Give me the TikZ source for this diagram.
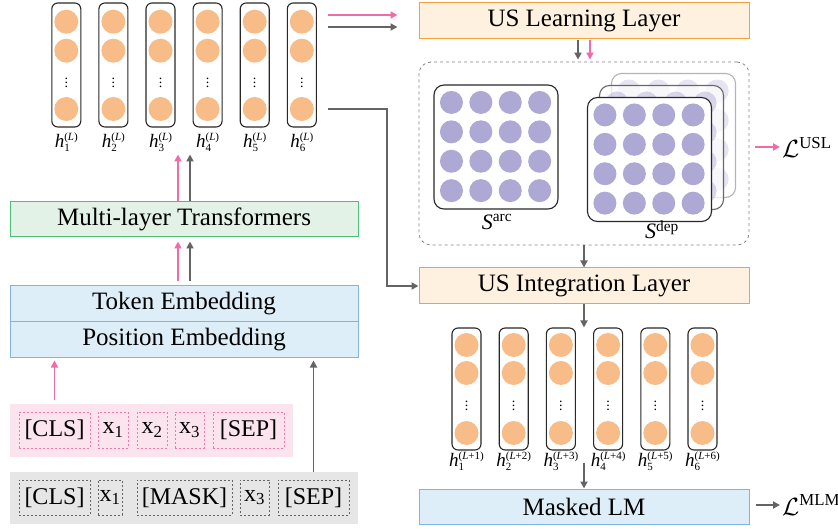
\documentclass[tikz,border=0pt]{standalone}
\usepackage{fontspec}
\setmainfont{Liberation Serif}
\usetikzlibrary{arrows.meta,positioning,calc}
\definecolor{UsInk}{RGB}{40,40,40}
\definecolor{UsPink}{RGB}{240,108,168}
\definecolor{UsGray}{RGB}{100,100,100}
\definecolor{UsUnit}{RGB}{248,188,136}
\definecolor{UsCell}{RGB}{173,168,212}
\definecolor{UsOrangeFill}{RGB}{255,241,224}
\definecolor{UsOrangeLine}{RGB}{245,160,60}
\definecolor{UsGreenFill}{RGB}{226,242,230}
\definecolor{UsGreenLine}{RGB}{80,190,120}
\definecolor{UsBlueFill}{RGB}{222,238,248}
\definecolor{UsBlueLine}{RGB}{130,180,225}
\definecolor{UsPinkFill}{RGB}{252,228,238}
\definecolor{UsPinkLine}{RGB}{240,120,170}
\definecolor{UsGrayFill}{RGB}{230,230,230}
% h with stacked index and layer
\newcommand{\hstate}[2]{\textit{h}\rlap{\raisebox{-4.5pt}{\fontsize{11}{12}\selectfont#1}}\raisebox{7pt}{\fontsize{11}{12}\selectfont(#2)}}
\tikzset{
  us/layer/.style={
    draw=UsOrangeLine,
    line width=1pt,
    fill=UsOrangeFill,
    minimum width=330pt,
    minimum height=36pt,
    inner sep=0pt,
    font=\fontsize{25}{29}\selectfont
  },
  us/blue/.style={us/layer, draw=UsBlueLine, fill=UsBlueFill, minimum width=348pt},
  us/green/.style={us/layer, draw=UsGreenLine, fill=UsGreenFill, minimum width=348pt},
  us/col/.style={draw=UsInk, line width=1.1pt, rounded corners=6pt, minimum width=29pt, minimum height=124pt, inner sep=0pt},
  us/unit/.style={circle, fill=UsUnit, minimum size=24pt, inner sep=0pt},
  us/cell/.style={circle, fill=UsCell, minimum size=23pt, inner sep=0pt},
  us/mat/.style={draw=UsInk, line width=1.1pt, rounded corners=10pt, fill=white, minimum size=124pt, inner sep=0pt},
  us/dots/.style={font=\fontsize{14}{15}\selectfont, inner sep=0pt},
  us/hlabel/.style={inner sep=0pt, font=\fontsize{19}{20}\selectfont},
  us/tokpink/.style={draw=UsPinkLine, line width=0.8pt, dash pattern=on 2pt off 2pt, minimum height=36pt, inner sep=0pt, font=\fontsize{24}{28}\selectfont},
  us/tokgray/.style={us/tokpink, draw=UsGray, minimum height=35pt},
  us/pinkarrow/.style={-{Triangle[length=7pt,width=7pt]}, line width=1.8pt, draw=UsPink},
  us/grayarrow/.style={-{Triangle[length=7pt,width=7pt]}, line width=1.8pt, draw=UsGray}
}

\begin{document}
\begin{tikzpicture}[x=1pt,y=-1pt]
  \useasboundingbox (0,0) rectangle (838,529);

  % hidden states of the last transformer layer
  \foreach \i in {1,...,6}{
    \pgfmathsetmacro{\cx}{66.3+47.1*(\i-1)}
    \node[us/col] (top\i) at (\cx,65) {};
    \foreach \y in {21.7,50.7,109} \node[us/unit] at (\cx,\y) {};
    \node[us/dots] at (\cx,80) {$\vdots$};
    \node[us/hlabel] (ltop\i) at (\cx,142) {\hstate{\i}{\textit{L}}};
  }

  % left stack
  \node[us/green, minimum height=35pt] (trans) at (184,219.5) {Multi-layer Transformers};
  \node[us/blue] (tokemb) at (184,304) {Token Embedding};
  \node[us/blue, minimum height=35pt] (posemb) at (184,339.5) {Position Embedding};

  \fill[UsPinkFill] (10,404) rectangle (293,457);
  \coordinate (pinkrow) at (151.5,404);
  \node[us/tokpink, minimum width=71pt] (tokA1) at (54.5,430) {[CLS]};
  \node[us/tokpink, minimum width=30pt] (tokA2) at (113,430) {x\textsubscript{1}};
  \node[us/tokpink, minimum width=30pt] (tokA3) at (152,430) {x\textsubscript{2}};
  \node[us/tokpink, minimum width=29pt] (tokA4) at (189.5,430) {x\textsubscript{3}};
  \node[us/tokpink, minimum width=71pt] (tokA5) at (248.5,430) {[SEP]};

  \fill[UsGrayFill] (10,472) rectangle (358,524);
  \coordinate (grayrow) at (184,472);
  \node[us/tokgray, minimum width=71pt] (tokB1) at (54.5,497.5) {[CLS]};
  \node[us/tokgray, minimum width=24pt] (tokB2) at (110,497.5) {x\textsubscript{1}};
  \node[us/tokgray, minimum width=95pt] (tokB3) at (184.5,497.5) {[MASK]};
  \node[us/tokgray, minimum width=29pt] (tokB4) at (254.5,497.5) {x\textsubscript{3}};
  \node[us/tokgray, minimum width=71pt] (tokB5) at (313.5,497.5) {[SEP]};

  % right stack
  \node[us/layer] (uslearn) at (584,21) {US Learning Layer};
  \node[draw=UsGray!80, dashed, line width=0.8pt, rounded corners=12pt, minimum width=330pt, minimum height=183pt] (usbox) at (584,153.5) {};

  \node[us/mat] (sarc) at (496,147) {};
  \foreach \r in {0,...,3}
    \foreach \c in {0,...,3}
      \node[us/cell] at ($(sarc.north west)+(18+29.4*\c,18+29.4*\r)$) {};
  \node[font=\fontsize{22}{24}\selectfont, inner sep=0pt] (sarclbl) at (497,222) {\textit{S}\textsuperscript{arc}};

  \node[us/mat, draw=UsInk!35, fill opacity=0.7] (sdep3) at (673.5,135.5) {};
  \foreach \r in {0,...,3}
    \foreach \c in {0,...,3}
      \node[us/cell, opacity=0.3] at ($(sdep3.north west)+(18+29.4*\c,18+29.4*\r)$) {};
  \node[us/mat, draw=UsInk!70, fill opacity=0.7] (sdep2) at (661.5,147.5) {};
  \foreach \r in {0,...,3}
    \foreach \c in {0,...,3}
      \node[us/cell, opacity=0.45] at ($(sdep2.north west)+(18+29.4*\c,18+29.4*\r)$) {};
  \node[us/mat] (sdep1) at (649.5,159.5) {};
  \foreach \r in {0,...,3}
    \foreach \c in {0,...,3}
      \node[us/cell] at ($(sdep1.north west)+(18+29.4*\c,18+29.4*\r)$) {};
  \node[font=\fontsize{22}{24}\selectfont, inner sep=0pt] (sdeplbl) at (662,230) {\textit{S}\textsuperscript{dep}};

  \node[font=\fontsize{24}{28}\selectfont, anchor=west, inner sep=0pt] (lusl) at (782,147) {$\mathcal{L}$\textsuperscript{USL}};

  \node[us/layer] (usint) at (584,286) {US Integration Layer};

  % hidden states after integration
  \foreach \i in {1,...,6}{
    \pgfmathsetmacro{\cx}{466.5+47.2*(\i-1)}
    \node[us/col, minimum height=122pt] (bot\i) at (\cx,389) {};
    \foreach \y in {345,373,433} \node[us/unit] at (\cx,\y) {};
    \node[us/dots] at (\cx,403) {$\vdots$};
    \node[us/hlabel] (lbot\i) at (\cx,461) {\hstate{\i}{\textit{L}+\i}};
  }

  \node[us/layer, draw=UsBlueLine, fill=UsBlueFill, minimum height=35pt] (masked) at (584,506.5) {Masked LM};
  \node[font=\fontsize{24}{28}\selectfont, anchor=west, inner sep=0pt] (lmlm) at (782,505) {$\mathcal{L}$\textsuperscript{MLM}};

  % connectors
  \draw[us/pinkarrow, shorten <=4pt, shorten >=3pt] (tokA1 |- pinkrow) -- (tokA1 |- posemb.south);
  \draw[us/grayarrow, shorten >=3pt] (tokB5 |- grayrow) -- (tokB5 |- posemb.south);
  \draw[us/pinkarrow, shorten <=4pt, shorten >=4pt] ([xshift=-6pt]tokemb.north) -- ([xshift=-6pt]trans.south);
  \draw[us/grayarrow, shorten <=4pt, shorten >=4pt] ([xshift=6pt]tokemb.north) -- ([xshift=6pt]trans.south);
  \draw[us/pinkarrow] ([xshift=-6pt]trans.north) -- ++(0,-47);
  \draw[us/grayarrow] ([xshift=6pt]trans.north) -- ++(0,-47);

  \draw[us/pinkarrow] ([xshift=11pt,yshift=50pt]top6.east) -- ([xshift=-21pt,yshift=6pt]uslearn.west);
  \draw[us/grayarrow] ([xshift=11pt,yshift=38pt]top6.east) -- ([xshift=-21pt,yshift=-6pt]uslearn.west);
  \draw[us/grayarrow] ([xshift=11pt,yshift=-44pt]top6.east) -- ++(59,0) |- (usint.west);

  \draw[us/grayarrow, shorten <=1pt, shorten >=2pt] ([xshift=-6pt]uslearn.south) -- ([xshift=-6pt]usbox.north);
  \draw[us/pinkarrow, shorten <=1pt, shorten >=2pt] ([xshift=6pt]uslearn.south) -- ([xshift=6pt]usbox.north);
  \draw[us/grayarrow] (usbox.south) -- (usint.north);
  \draw[us/grayarrow] (usint.south) -- (usint.south |- bot3.north);
  \draw[us/grayarrow] ($(masked.north)+(0,-26)$) -- (masked.north);
  \draw[us/pinkarrow] ([xshift=6pt]usbox.east |- lusl.west) -- ([xshift=-2pt]lusl.west);
  \draw[us/grayarrow] ([xshift=6pt]masked.east |- lmlm.west) -- ([xshift=-2pt]lmlm.west);
\end{tikzpicture}
\end{document}
